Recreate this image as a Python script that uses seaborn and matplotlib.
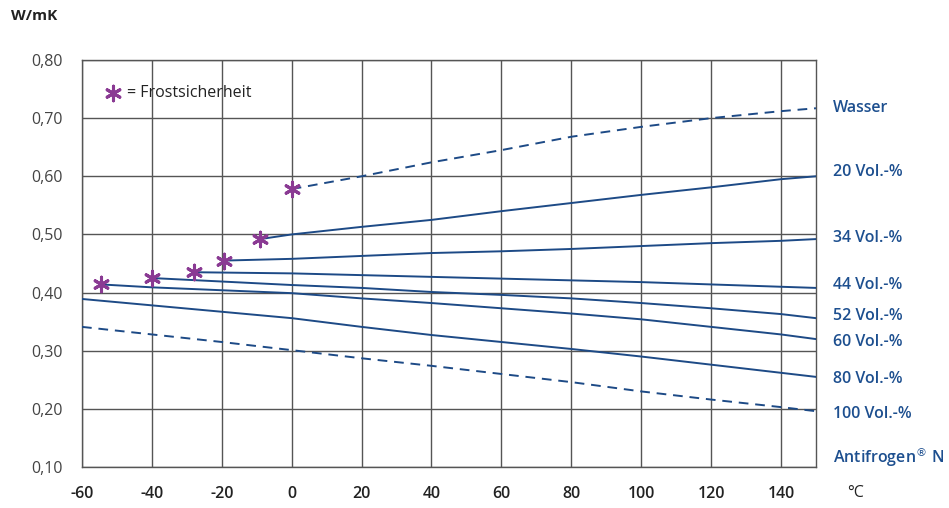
import pandas as pd
import matplotlib
matplotlib.use("Agg")
import matplotlib.pyplot as plt
import seaborn as sns

# temperature grid (°C) used for the readings
temps = [-60, -40, -20, 0, 20, 40, 60, 80, 100, 120, 140, 150]

# series: temperatures and conductivity values
wasser_t = [0, 20, 40, 60, 80, 100, 120, 140, 150]
wasser_k = [0.578, 0.600, 0.624, 0.645, 0.668, 0.685, 0.700, 0.712, 0.717]

vol20_t = [-9, 0, 20, 40, 60, 80, 100, 120, 140, 150]
vol20_k = [0.492, 0.500, 0.513, 0.525, 0.540, 0.554, 0.568, 0.581, 0.595, 0.600]

vol34_t = [-19.5, 0, 20, 40, 60, 80, 100, 120, 140, 150]
vol34_k = [0.455, 0.458, 0.463, 0.468, 0.471, 0.475, 0.480, 0.485, 0.489, 0.492]

vol44_t = [-28, 0, 20, 40, 60, 80, 100, 120, 140, 150]
vol44_k = [0.435, 0.433, 0.430, 0.427, 0.424, 0.421, 0.418, 0.414, 0.410, 0.408]

vol52_t = [-40, -20, 0, 20, 40, 60, 80, 100, 120, 140, 150]
vol52_k = [0.425, 0.419, 0.413, 0.408, 0.401, 0.396, 0.390, 0.382, 0.373, 0.363, 0.356]

vol60_t = [-54.5, -40, -20, 0, 20, 40, 60, 80, 100, 120, 140, 150]
vol60_k = [0.414, 0.409, 0.404, 0.399, 0.390, 0.382, 0.373, 0.364, 0.354, 0.341, 0.328, 0.320]

vol80_t = temps
vol80_k = [0.389, 0.378, 0.367, 0.356, 0.341, 0.327, 0.315, 0.303, 0.290, 0.276, 0.262, 0.255]

vol100_t = temps
vol100_k = [0.341, 0.328, 0.315, 0.301, 0.287, 0.274, 0.260, 0.246, 0.230, 0.216, 0.203, 0.196]

# frost protection points (first point of each curve)
frost_t = [0, -9, -19.5, -28, -40, -54.5]
frost_k = [0.578, 0.492, 0.455, 0.435, 0.425, 0.414]

series = [
    ("Wasser", wasser_t, wasser_k, True),
    ("20 Vol.-%", vol20_t, vol20_k, False),
    ("34 Vol.-%", vol34_t, vol34_k, False),
    ("44 Vol.-%", vol44_t, vol44_k, False),
    ("52 Vol.-%", vol52_t, vol52_k, False),
    ("60 Vol.-%", vol60_t, vol60_k, False),
    ("80 Vol.-%", vol80_t, vol80_k, False),
    ("100 Vol.-%", vol100_t, vol100_k, True),
]

# right side labels and their vertical positions (W/mK)
right_labels = ["Wasser", "20 Vol.-%", "34 Vol.-%", "44 Vol.-%", "52 Vol.-%",
                "60 Vol.-%", "80 Vol.-%", "100 Vol.-%", r"Antifrogen$^{\circledR}$ N"]
right_label_y = [0.717, 0.607, 0.494, 0.413, 0.360, 0.315, 0.251, 0.191, 0.117]

x_ticks = [-60, -40, -20, 0, 20, 40, 60, 80, 100, 120, 140]
x_tick_labels = ["-60", "-40", "-20", "0", "20", "40", "60", "80", "100", "120", "140"]
y_ticks = [0.1, 0.2, 0.3, 0.4, 0.5, 0.6, 0.7, 0.8]
y_tick_labels = ["0,10", "0,20", "0,30", "0,40", "0,50", "0,60", "0,70", "0,80"]

sns.set_theme(style="white")
plt.rcParams['font.family'] = ['Open Sans', 'DejaVu Sans']
plt.rcParams['mathtext.fontset'] = 'dejavusans'

line_color = "#1d4a86"
label_color = "#1d4f8f"
star_color = "#8a3a93"
grid_color = "#555555"

fig = plt.figure(figsize=(9.49, 5.08), dpi=100)
ax = fig.add_axes([0.0864, 0.0807, 0.7734, 0.8012])

for name, t, k, dashed in series:
    df = pd.DataFrame({"T": t, "k": k})
    sns.lineplot(data=df, x="T", y="k", ax=ax, color=line_color, linewidth=1.4,
                 dashes=False, zorder=3)
    if dashed:
        ax.lines[-1].set_dashes((5, 3.5))

frost = pd.DataFrame({"T": frost_t, "k": frost_k})
sns.scatterplot(data=frost, x="T", y="k", ax=ax, marker=(6, 2, 0), s=110,
                color=star_color, edgecolor=star_color, linewidth=2.2, zorder=4)

ax.set_xlim(-60, 150)
ax.set_ylim(0.1, 0.8)
ax.set_xticks(x_ticks)
ax.set_xticklabels(x_tick_labels, fontsize=11.5, fontweight="semibold", color="#222222")
ax.set_yticks(y_ticks)
ax.set_yticklabels(y_tick_labels, fontsize=11.5, color="#444444")
ax.tick_params(axis="y", length=0, pad=14)
ax.tick_params(axis="x", length=0, pad=14)
ax.set_xlabel("")
ax.set_ylabel("")

ax.grid(True, color=grid_color, linewidth=1.0)
for sp in ax.spines.values():
    sp.set_color(grid_color)
    sp.set_linewidth(1.0)

for lab, yv in zip(right_labels, right_label_y):
    ax.text(154.8, yv, lab, color=label_color, fontsize=11.5, fontweight="semibold",
            va="center", ha="left", clip_on=False)

# legend text inside the plot
ax.scatter([-51.2], [0.744], marker=(6, 2, 0), s=110, color=star_color,
           linewidth=2.2, zorder=5)
ax.text(-47.0, 0.743, "= Frostsicherheit", fontsize=11.5, color="#222222",
        va="center", ha="left", fontweight="medium")

fig.text(0.012, 0.968, "W/mK", fontsize=11, fontweight="bold", color="#222222",
         va="center", ha="left")
fig.text(0.893, 0.030, "\u00b0C", fontsize=11.5, color="#222222", va="center", ha="left")

fig.savefig("out.png", dpi=100)
